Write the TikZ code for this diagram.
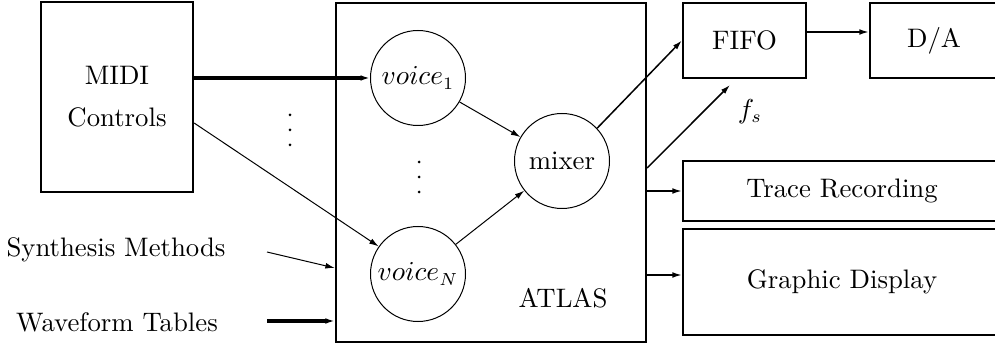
\documentclass[tikz,border=0pt]{standalone}
\usetikzlibrary{arrows.meta}
\begin{document}
\begin{tikzpicture}[x=0.4pt,y=-0.4pt,
  font=\fontsize{10.7}{12.8}\selectfont,
  box/.style={draw,line width=0.9pt,rectangle,inner sep=0pt,align=center},
  unit/.style={draw,line width=0.4pt,circle,inner sep=0pt,minimum size=38pt},
  tip/.style={-{Latex[length=3.8pt,width=2.3pt]}},
  thin link/.style={tip,line width=0.4pt},
  mid link/.style={tip,line width=0.6pt},
  bold link/.style={tip,line width=1.3pt},
  txt/.style={inner sep=0pt},
  dot/.style={circle,fill,inner sep=0pt,minimum size=1.2pt}]
\clip (0,0) rectangle (995,346);

% input side
\node[box,minimum width=60.8pt,minimum height=76pt] (midi) at (117,97) {MIDI\\[4pt]Controls};
\node[txt] (synth) at (116,250) {Synthesis Methods};
\node[txt] (wave) at (117,322) {Waveform Tables};
\coordinate (synthend) at (267,252);
\coordinate (waveend) at (267,321);
\foreach \y [count=\i] in {115,130,145} \node[dot] (outdot\i) at (290,\y) {};

% the ATLAS synthesiser
\node[box,minimum width=124pt,minimum height=135.6pt] (atlas) at (491,172.5) {};
\node[txt] (atlaslabel) at (563,298) {ATLAS};
\node[unit] (voice1) at (418,78) {$voice_1$};
\node[unit] (voiceN) at (418,274) {$voice_N$};
\foreach \y [count=\i] in {162,177,192} \node[dot] (indot\i) at (419,\y) {};
\node[unit] (mixer) at (562,161) {mixer};

% output side
\node[box,minimum width=49.2pt,minimum height=30pt] (fifo) at (744.5,40.5) {FIFO};
\node[box,minimum width=51.2pt,minimum height=30pt] (da) at (934,40.5) {D/A};
\node[box,minimum width=127.2pt,minimum height=24pt] (trace) at (842,191) {Trace Recording};
\node[box,minimum width=127.2pt,minimum height=42.4pt] (graphic) at (842,282) {Graphic Display};
\coordinate (fsend) at (730,85);
\node[txt] (fs) at (750,112) {$f_s$};

% connections
\draw[bold link] (midi.east |- voice1.west) -- (voice1.west);
\draw[thin link] ([yshift=-10.4pt]midi.east) -- (voiceN.145);
\draw[thin link] (synthend) -- (atlas.west |- 0,268);
\draw[bold link] (waveend) -- (atlas.west |- waveend);
\draw[thin link] (voice1) -- (mixer);
\draw[thin link] (voiceN) -- (mixer);
\draw[mid link] (mixer.43) -- (fifo.west);
\draw[mid link] (atlas.east |- 0,168) -- (fsend);
\draw[mid link] ([yshift=3.4pt]fifo.east) -- ([yshift=3.4pt]da.west);
\draw[mid link] (atlas.east |- trace.west) -- (trace.west);
\draw[mid link] ([yshift=2.8pt]atlas.east |- graphic.west) -- ([yshift=2.8pt]graphic.west);
\end{tikzpicture}
\end{document}
